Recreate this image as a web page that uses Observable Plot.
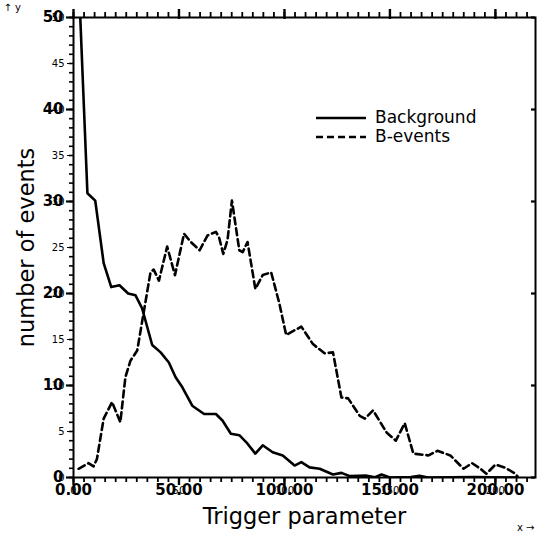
<!DOCTYPE html>
<html>
<head>
<meta charset="utf-8">
<script src="https://cdn.jsdelivr.net/npm/d3@7"></script>
<script src="https://cdn.jsdelivr.net/npm/@observablehq/plot@0.6"></script>
<style>
  body { margin: 0; background: #fff; }
  #wrap { position: relative; width: 537px; height: 533px; font-family: "DejaVu Sans", sans-serif; }
  #legend { position: absolute; left: 316px; top: 108px; font-size: 17px; line-height: 19px; color: #000; }
  #legend .row { display: flex; align-items: center; height: 19px; }
  #legend svg { margin-right: 9px; }
</style>
</head>
<body>
<div id="wrap"></div>
<script>
// ---- data ----
const seriesNames = ["Background", "B-events"];

const bgX = [2.5, 6.6, 10.3, 14.3, 17.9, 21.8, 25.9, 29.4, 32.5, 37.3, 41.3, 45.2, 48.4, 51.6, 56.3, 61.9, 67.5, 70.6, 74.6, 78.6, 82.4, 86.2, 89.7, 94.4, 99.2, 104.8, 108.0, 111.9, 116.7, 123.0, 127.0, 131.0, 139.0, 143.0, 146.0, 150.0, 160.0, 164.0, 168.0, 190.0, 210.0];
const bgY = [54.0, 30.9, 30.1, 23.3, 20.7, 20.9, 20.0, 19.8, 18.4, 14.4, 13.6, 12.5, 10.9, 9.8, 7.8, 6.9, 6.9, 6.2, 4.75, 4.6, 3.7, 2.6, 3.5, 2.75, 2.4, 1.3, 1.67, 1.1, 0.95, 0.33, 0.5, 0.15, 0.2, 0.03, 0.33, 0.0, 0.05, 0.2, 0.0, 0.05, 0.0];

const bevX = [2.4, 7.1, 9.5, 11.1, 14.3, 18.3, 22.2, 24.6, 27.0, 30.2, 36.5, 38.0, 40.5, 44.4, 48.1, 52.4, 55.6, 59.8, 63.5, 67.5, 69.0, 71.0, 73.0, 75.1, 78.6, 80.2, 82.5, 86.2, 89.7, 93.7, 97.6, 100.8, 108.0, 113.5, 119.0, 123.0, 127.0, 130.2, 135.7, 138.1, 142.0, 148.4, 152.8, 157.0, 161.1, 168.3, 172.5, 178.6, 184.9, 188.9, 192.9, 195.7, 200.0, 204.8, 209.5, 210.5];
const bevY = [0.95, 1.56, 1.2, 2.0, 6.4, 8.2, 6.0, 10.9, 12.7, 13.8, 22.3, 22.6, 21.4, 25.1, 22.0, 26.5, 25.6, 24.7, 26.3, 26.7, 26.1, 24.3, 25.8, 30.1, 24.7, 24.5, 25.6, 20.5, 22.0, 22.3, 18.9, 15.5, 16.4, 14.5, 13.5, 13.6, 8.7, 8.6, 6.7, 6.4, 7.3, 4.9, 4.0, 5.9, 2.6, 2.4, 2.9, 2.4, 0.95, 1.56, 0.95, 0.4, 1.4, 1.05, 0.4, 0.1];

const xMajor = [0, 50, 100, 150, 200];
const xTickLabels = ["0.00", "50.00", "100.00", "150.00", "200.00"];
const xMinor = [0,5,10,15,20,25,30,35,40,45,50,55,60,65,70,75,80,85,90,95,100,105,110,115,120,125,130,135,140,145,150,155,160,165,170,175,180,185,190,195,200,205,210,215];
const yMajor = [0, 10, 20, 30, 40, 50];
const yTickLabels = ["0", "10", "20", "30", "40", "50"];
const yMinor = d3.range(0, 51);
const xTitle = "Trigger parameter";
const yTitle = "number of events";

// ---- build ----
const bg = bgX.map((x, i) => ({x, y: bgY[i]}));
const bev = bevX.map((x, i) => ({x, y: bevY[i]}));
const xDomain = [0, 219], yDomain = [0, 50];

// tick lengths, expressed in axis units (so they go through Plot's scales)
const yUnitPx = 460 / 50, xUnitPx = 462 / 219;
const lenY = (px) => px / yUnitPx;   // vertical tick length in y units
const lenX = (px) => px / xUnitPx;   // horizontal tick length in x units

const ticks = [
  // bottom (outward)
  Plot.ruleX(xMinor, {x: d => d, y1: yDomain[0], y2: yDomain[0] - lenY(5), stroke: "black", strokeWidth: 1.8}),
  Plot.ruleX(xMajor, {x: d => d, y1: yDomain[0], y2: yDomain[0] - lenY(8), stroke: "black", strokeWidth: 2.4}),
  // top (outward)
  Plot.ruleX(xMinor, {x: d => d, y1: yDomain[1], y2: yDomain[1] + lenY(5), stroke: "black", strokeWidth: 1.8}),
  Plot.ruleX(xMajor, {x: d => d, y1: yDomain[1] - lenY(2), y2: yDomain[1] + lenY(8), stroke: "black", strokeWidth: 2.4}),
  // left (outward)
  Plot.ruleY(yMinor, {y: d => d, x1: xDomain[0], x2: xDomain[0] - lenX(4), stroke: "black", strokeWidth: 1.6}),
  Plot.ruleY(yMajor, {y: d => d, x1: xDomain[0], x2: xDomain[0] - lenX(7), stroke: "black", strokeWidth: 2.2}),
  // right (inward)
  Plot.ruleY(yMajor, {y: d => d, x1: xDomain[1], x2: xDomain[1] - lenX(4), stroke: "black", strokeWidth: 2.2})
];

const chart = Plot.plot({
  width: 537,
  height: 533,
  marginLeft: 73,
  marginRight: 2,
  marginTop: 17,
  marginBottom: 56,
  x: {domain: xDomain},
  y: {domain: yDomain},
  style: {fontFamily: "DejaVu Sans", color: "black", background: "white"},
  marks: [
    Plot.line(bg, {x: "x", y: "y", stroke: "black", strokeWidth: 2.6, clip: true}),
    Plot.line(bev, {x: "x", y: "y", stroke: "black", strokeWidth: 2.6, strokeDasharray: "7,4", clip: true}),
    Plot.frame({stroke: "black", strokeWidth: 2}),
    // tick labels
    Plot.text(xMajor, {x: d => d, text: (d, i) => xTickLabels[i], frameAnchor: "bottom", dy: 7, lineAnchor: "top",
      fontSize: 15, fontWeight: "bold", fill: "black"}),
    Plot.text(yMajor, {y: d => d, text: (d, i) => yTickLabels[i], frameAnchor: "left", dx: -10, textAnchor: "end",
      fontSize: 15, fontWeight: "bold", fill: "black"}),
    // axis titles
    Plot.text([xTitle], {frameAnchor: "bottom", dy: 46, lineAnchor: "bottom", textAnchor: "middle", fontSize: 22.5, fill: "black"}),
    Plot.text([yTitle], {frameAnchor: "left", dx: -40, rotate: -90, lineAnchor: "bottom", textAnchor: "middle", fontSize: 22.5, fill: "black"}),
    // tick marks last, on top
    ...ticks
  ]
});

const wrap = document.getElementById("wrap");
wrap.appendChild(chart);

// legend overlay
const legend = document.createElement("div");
legend.id = "legend";
const styles = [null, "7,4"];
seriesNames.forEach((name, i) => {
  const row = document.createElement("div");
  row.className = "row";
  const dash = styles[i] ? ` stroke-dasharray="${styles[i]}"` : "";
  row.innerHTML = `<svg width="50" height="6"><line x1="0" y1="3" x2="50" y2="3" stroke="black" stroke-width="2.6"${dash}/></svg><span>${name}</span>`;
  legend.appendChild(row);
});
wrap.appendChild(legend);
</script>
</body>
</html>
